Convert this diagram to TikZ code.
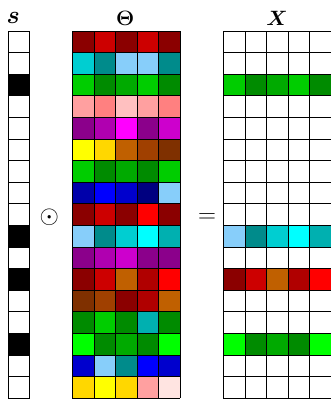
\documentclass[tikz,border=0pt]{standalone}
\usepackage{amsmath,bm}
\definecolor{dred}{HTML}{8B0000}
\definecolor{red3}{HTML}{CD0000}
\definecolor{redB}{HTML}{B00000}
\definecolor{rred}{HTML}{FF0000}
\definecolor{dturq}{HTML}{00CED1}
\definecolor{dcyan}{HTML}{008B8B}
\definecolor{lsky}{HTML}{87CEFA}
\definecolor{ccyan}{HTML}{00FFFF}
\definecolor{turq}{HTML}{00B0B0}
\definecolor{gthree}{HTML}{00CD00}
\definecolor{gfour}{HTML}{008B00}
\definecolor{gtwo}{HTML}{00AA00}
\definecolor{glime}{HTML}{00FF00}
\definecolor{pinkA}{HTML}{FFA0A0}
\definecolor{pinkB}{HTML}{FF8080}
\definecolor{pinkC}{HTML}{FFC0C0}
\definecolor{mrose}{HTML}{FFE4E1}
\definecolor{dmag}{HTML}{8B008B}
\definecolor{magB}{HTML}{B000B0}
\definecolor{mmag}{HTML}{FF00FF}
\definecolor{magC}{HTML}{CD00CD}
\definecolor{yyel}{HTML}{FFFF00}
\definecolor{ggold}{HTML}{FFD700}
\definecolor{orng}{HTML}{C06000}
\definecolor{sienna}{HTML}{A04000}
\definecolor{brwn}{HTML}{7F3000}
\definecolor{dblue}{HTML}{0000AA}
\definecolor{bblue}{HTML}{0000FF}
\definecolor{mblue}{HTML}{0000CD}
\definecolor{nnavy}{HTML}{000080}
\begin{document}
\begin{tikzpicture}[x=1pt,y=-1pt,
  gridline/.style={draw=black,line width=0.8pt},
  lab/.style={inner sep=0pt,font=\fontsize{19.5}{22}\selectfont},
  slabel/.style={inner sep=0pt,font=\fontsize{23.5}{26}\selectfont},
  op/.style={inner sep=0pt,font=\fontsize{25}{28}\selectfont}]
\useasboundingbox (0,0) rectangle (331,399);
\def\cs{21.6}
\def\sx{8}
\def\tx{72.3}
\def\xx{223.3}
\def\ty{31}
% s column
\foreach \r in {3,10,12,15}
  \fill[black] (\sx,{\ty+(\r-1)*\cs}) rectangle ++(\cs,\cs);
% Theta
\foreach \row [count=\r from 0] in {
  {dred,red3,dred,red3,dred},
  {dturq,dcyan,lsky,lsky,dcyan},
  {gthree,gfour,gtwo,gthree,gfour},
  {pinkA,pinkB,pinkC,pinkA,pinkB},
  {dmag,magB,mmag,dmag,magC},
  {yyel,ggold,orng,sienna,brwn},
  {gthree,gfour,gtwo,gfour,gthree},
  {dblue,bblue,mblue,nnavy,lsky},
  {dred,red3,dred,rred,dred},
  {lsky,dcyan,dturq,ccyan,turq},
  {dmag,magB,magC,dmag,dmag},
  {dred,red3,orng,redB,rred},
  {brwn,sienna,dred,redB,orng},
  {gfour,gthree,gfour,turq,gfour},
  {glime,gfour,gtwo,gfour,glime},
  {mblue,lsky,dcyan,bblue,mblue},
  {ggold,yyel,ggold,pinkA,mrose}}
  {\foreach \c [count=\i from 0] in \row
     \fill[\c] ({\tx+\i*\cs},{\ty+\r*\cs}) rectangle ++(\cs,\cs);}
% X
\foreach \r/\row in {
  2/{gthree,gfour,gtwo,gthree,gfour},
  9/{lsky,dcyan,dturq,ccyan,turq},
  11/{dred,red3,orng,redB,rred},
  14/{glime,gfour,gtwo,gfour,glime}}
  {\foreach \c [count=\i from 0] in \row
     \fill[\c] ({\xx+\i*\cs},{\ty+\r*\cs}) rectangle ++(\cs,\cs);}
% grid lines
\foreach \gx/\n in {\sx/1,\tx/5,\xx/5}{
  \foreach \r in {0,...,17}
    \draw[gridline] (\gx,{\ty+\r*\cs}) -- ++({\n*\cs},0);
  \foreach \i in {0,...,\n}
    \draw[gridline] ({\gx+\i*\cs},\ty) -- ++(0,{17*\cs});
}
% labels
\node[slabel] (slab) at (13.3,18) {$\bm{s}$};
\node[lab] (tlab) at (125.3,18.7) {$\bm{\Theta}$};
\node[lab] (xlab) at (277,18.8) {$\bm{X}$};
\node[op] (odot) at (49.3,217.5) {$\odot$};
\node[op] (eq) at (207,218) {$=$};
\end{tikzpicture}
\end{document}
